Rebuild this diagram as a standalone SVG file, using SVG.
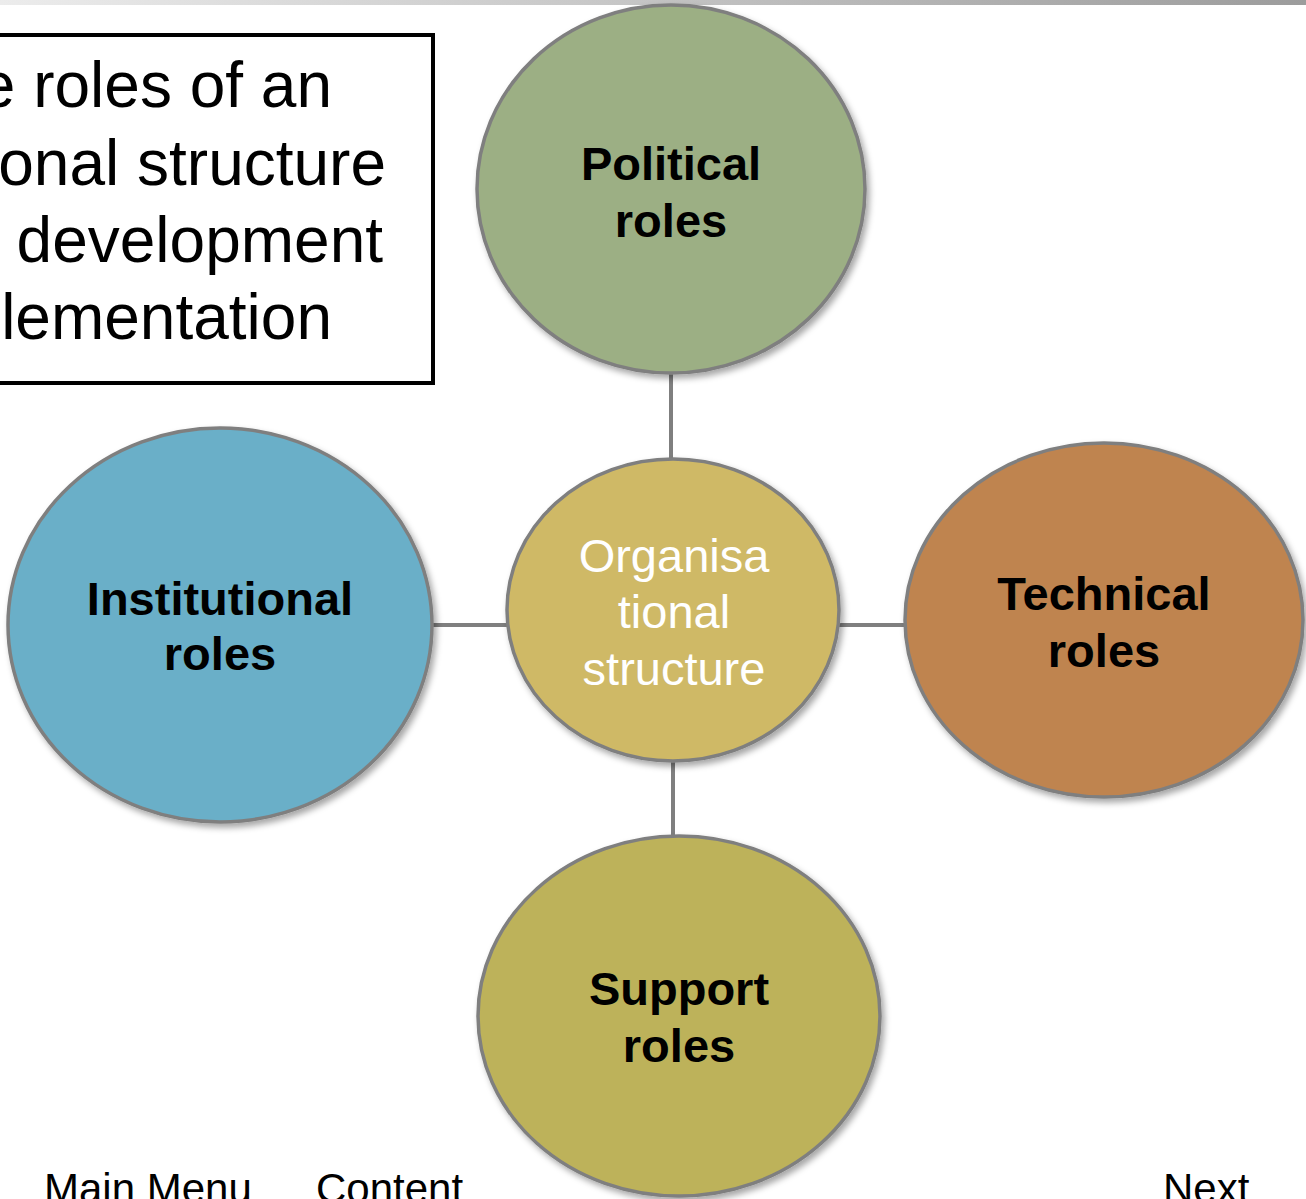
<svg xmlns="http://www.w3.org/2000/svg" width="1306" height="1199" viewBox="0 0 1306 1199">
  <defs>
    <linearGradient id="bar" x1="0" y1="0" x2="1" y2="0">
      <stop offset="0" stop-color="#ececec"/>
      <stop offset="1" stop-color="#9c9c9c"/>
    </linearGradient>
    <filter id="shadow" x="-10%" y="-10%" width="125%" height="125%">
      <feDropShadow dx="3" dy="4" stdDeviation="3" flood-color="#000" flood-opacity="0.35"/>
    </filter>
    <style>
      .node ellipse { stroke: #7f7f7f; stroke-width: 3.5; filter: url(#shadow); }
      .label { font-family: "Liberation Sans", Arial, sans-serif; font-weight: bold; font-size: 47px; fill: #000; text-anchor: middle; }
      .center-label { font-family: "Liberation Sans", Arial, sans-serif; font-size: 47px; fill: #fff; text-anchor: middle; }
      .title { font-family: "Liberation Sans", Arial, sans-serif; font-size: 64px; fill: #000; text-anchor: end; }
      .nav { font-family: "Liberation Sans", Arial, sans-serif; font-size: 42px; fill: #000; }
      .link { stroke: #7f7f7f; stroke-width: 4; fill: none; }
    </style>
  </defs>

  <rect width="1306" height="1199" fill="#fff"/>
  <!-- window bar along the top edge -->
  <rect x="0" y="0" width="1306" height="5" fill="url(#bar)"/>

  <!-- title box -->
  <g id="title-box">
    <rect x="-5" y="35" width="438" height="348" fill="#fff" stroke="#000" stroke-width="4"/>
    <text class="title" x="332" y="107">e roles of an</text>
    <text class="title" x="386" y="185">onal structure</text>
    <text class="title" x="383" y="262">development</text>
    <text class="title" x="332" y="339">lementation</text>
  </g>

  <!-- connectors -->
  <g id="connectors">
    <line class="link" x1="671" y1="372" x2="671" y2="460"/>
    <line class="link" x1="431" y1="625" x2="508" y2="625"/>
    <line class="link" x1="839" y1="625" x2="906" y2="625"/>
    <line class="link" x1="673" y1="760" x2="673" y2="837"/>
  </g>

  <g id="political" class="node">
    <ellipse cx="671" cy="189" rx="194" ry="184" fill="#9caf84"/>
    <text class="label" x="671" y="180">Political</text>
    <text class="label" x="671" y="237">roles</text>
  </g>

  <g id="institutional" class="node">
    <ellipse cx="220" cy="625" rx="212" ry="197" fill="#6aafc8"/>
    <text class="label" x="220" y="615">Institutional</text>
    <text class="label" x="220" y="670">roles</text>
  </g>

  <g id="technical" class="node">
    <ellipse cx="1104" cy="620" rx="199" ry="177" fill="#bf8450"/>
    <text class="label" x="1104" y="610">Technical</text>
    <text class="label" x="1104" y="667">roles</text>
  </g>

  <g id="support" class="node">
    <ellipse cx="679" cy="1016" rx="201" ry="180" fill="#bdb25a"/>
    <text class="label" x="679" y="1005">Support</text>
    <text class="label" x="679" y="1062">roles</text>
  </g>

  <g id="organisational-structure" class="node">
    <ellipse cx="673" cy="610" rx="166" ry="151" fill="#cfb966"/>
    <text class="center-label" x="674" y="572">Organisa</text>
    <text class="center-label" x="674" y="628">tional</text>
    <text class="center-label" x="674" y="685">structure</text>
  </g>

  <!-- navigation links -->
  <g id="nav">
    <text class="nav" x="44" y="1203">Main Menu</text>
    <text class="nav" x="316" y="1203">Content</text>
    <text class="nav" x="1163" y="1203">Next</text>
  </g>
</svg>
